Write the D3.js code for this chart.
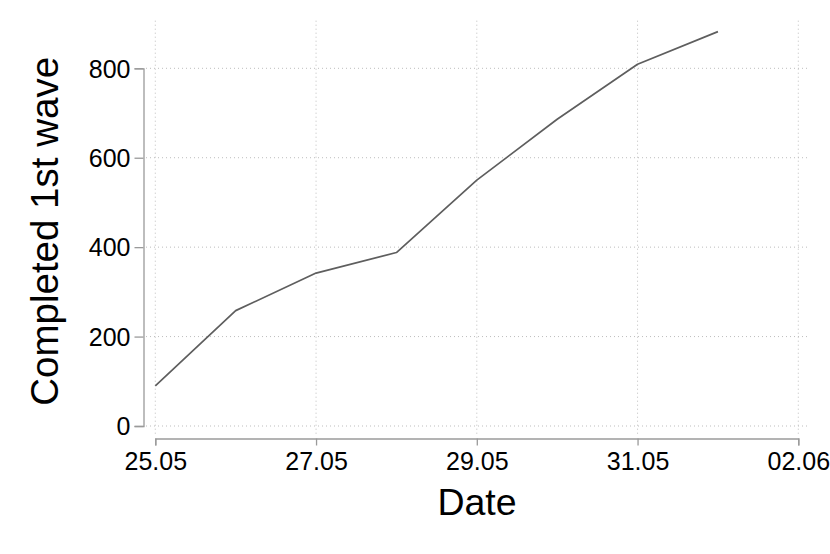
<!DOCTYPE html>
<html>
<head>
<meta charset="utf-8">
<script src="https://cdn.jsdelivr.net/npm/d3@7"></script>
<style>
  html, body { margin: 0; padding: 0; background: #fff; }
  svg { display: block; font-family: "Liberation Sans", Arial, Helvetica, sans-serif; }
</style>
</head>
<body>
<svg id="chart" width="830" height="554"></svg>
<script>
// Data
const dates = ["2020-05-25", "2020-05-26", "2020-05-27", "2020-05-28", "2020-05-29", "2020-05-30", "2020-05-31", "2020-06-01"];
const completed = [90, 258, 342, 388, 550, 686, 809, 882];
const yTicks = [0, 200, 400, 600, 800];
const xTicks = ["2020-05-25", "2020-05-27", "2020-05-29", "2020-05-31", "2020-06-02"];
const xTitle = "Date";
const yTitle = "Completed 1st wave";

const parse = d3.timeParse("%Y-%m-%d");
const fmt = d3.timeFormat("%d.%m");
const data = dates.map((d, i) => ({ date: parse(d), value: completed[i] }));

const svg = d3.select("#chart");

const plotLeft = 146, plotRight = 808, plotTop = 20.7, plotBottom = 436;

const x = d3.scaleTime()
  .domain([parse(xTicks[0]), parse(xTicks[xTicks.length - 1])])
  .range([155.3, 798.3]);
const y = d3.scaleLinear().domain([0, 800]).range([426, 68.3]);

// Gridlines
const grid = svg.append("g").attr("class", "grid");
grid.selectAll("line.h").data(yTicks).enter().append("line")
  .attr("x1", plotLeft).attr("x2", plotRight)
  .attr("y1", d => y(d)).attr("y2", d => y(d))
  .attr("stroke", "#bdbdbd").attr("stroke-width", 1)
  .attr("stroke-dasharray", "1,3");
grid.selectAll("line.v").data(xTicks.map(parse)).enter().append("line")
  .attr("x1", d => x(d)).attr("x2", d => x(d))
  .attr("y1", plotTop).attr("y2", plotBottom)
  .attr("stroke", "#bdbdbd").attr("stroke-width", 1)
  .attr("stroke-dasharray", "1,3");

// Y axis
const yAxis = svg.append("g")
  .attr("transform", "translate(143.5,0)")
  .call(d3.axisLeft(y).tickValues(yTicks).tickSizeOuter(0).tickSize(9).tickPadding(4).tickFormat(d3.format("d")));
yAxis.select(".domain").attr("stroke", "#9a9a9a").attr("stroke-width", 1.3);
yAxis.selectAll(".tick line").attr("stroke", "#9a9a9a").attr("stroke-width", 1.3);
yAxis.selectAll(".tick text").attr("fill", "#000").style("font-size", "25px")
  .attr("dy", "0.35em");

// X axis
const xAxis = svg.append("g")
  .attr("transform", "translate(0,438.5)")
  .call(d3.axisBottom(x).tickValues(xTicks.map(parse)).tickSizeOuter(0).tickSize(7).tickPadding(7).tickFormat(fmt));
xAxis.select(".domain").attr("stroke", "#9a9a9a").attr("stroke-width", 1.3);
xAxis.selectAll(".tick line").attr("stroke", "#9a9a9a").attr("stroke-width", 1.3);
xAxis.selectAll(".tick text").attr("fill", "#000").style("font-size", "25px");

// Line
const line = d3.line().x(d => x(d.date)).y(d => y(d.value));
svg.append("path").datum(data)
  .attr("d", line)
  .attr("fill", "none")
  .attr("stroke", "#5e5e5e")
  .attr("stroke-width", 1.7)
  .attr("stroke-linejoin", "round");

// Titles
svg.append("text")
  .attr("x", (plotLeft + plotRight) / 2)
  .attr("y", 515)
  .attr("text-anchor", "middle")
  .style("font-size", "37.5px")
  .attr("fill", "#000")
  .text(xTitle);

svg.append("text")
  .attr("transform", `translate(57.5,${(plotTop + plotBottom) / 2 + 3}) rotate(-90)`)
  .attr("text-anchor", "middle")
  .style("font-size", "38.5px")
  .attr("fill", "#000")
  .text(yTitle);
</script>
</body>
</html>
